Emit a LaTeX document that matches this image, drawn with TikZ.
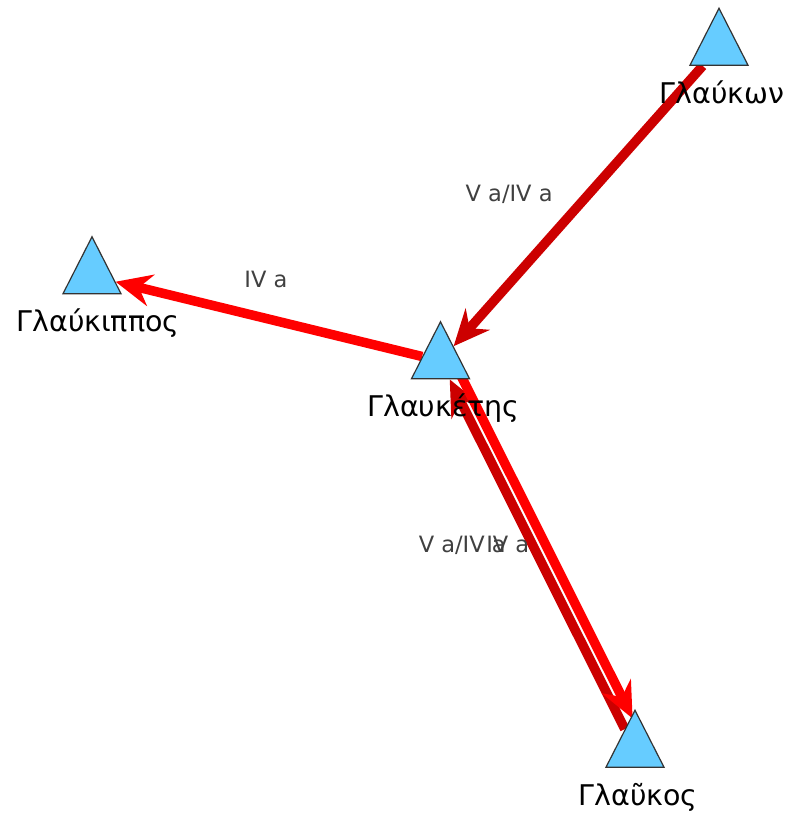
\documentclass[tikz,border=0pt]{standalone}
\usepackage{fontspec}
\setmainfont{DejaVu Sans}
\usetikzlibrary{arrows.meta,shapes.geometric,positioning}
\pgfdeclarelayer{background}
\pgfsetlayers{background,main}
\definecolor{skyfill}{RGB}{102,204,255}
\definecolor{darkred}{RGB}{204,0,0}

\begin{document}
\begin{tikzpicture} [
		x=1pt, y=1pt,
		person/.style      = { isosceles triangle, isosceles triangle apex angle=54,
			shape border rotate=90, draw=black!80, line width=1.2pt,
			fill=skyfill, inner sep=0pt, minimum height=57pt, minimum width=58pt },
		personlabel/.style = { font=\fontsize{28.5}{33}\selectfont, inner sep=2pt,
			text height=20pt, text depth=6pt, xshift=3pt },
		tie/.style         = { line width=9.5pt,
			-{Stealth[length=36pt, width=32pt, inset=12pt]} },
		tielabel/.style    = { font=\fontsize{22.5}{27}\selectfont, text=black!75 },
	]
	\useasboundingbox (0,0) rectangle (789,816);
	% the people
	\begin{scope}
		\node [person] (glaukon)   at (719,768.5) {};
		\node [person] (glaukippos) at (92,540)   {};
		\node [person] (glauketes) at (440.5,455) {};
		\node [person] (glaukos)   at (635,66.5)  {};
		\node [personlabel, below=15pt of glaukon]   (glaukonlbl)   {Γλαύκων};
		\node [personlabel, below=15pt of glaukippos, xshift=3pt] (glaukipposlbl) {Γλαύκιππος};
		\node [personlabel, below=15pt of glauketes] (glauketeslbl) {Γλαυκέτης};
		\node [personlabel, below=15pt of glaukos]   (glaukoslbl)   {Γλαῦκος};
	\end{scope}
	% ties between them
	\begin{pgfonlayer}{background}
		\draw [tie, darkred] (glaukon) -- (glauketes)
			node [tielabel, midway, xshift=-69pt, yshift=12pt] {V a/IV a};
		\draw [tie, red] (glauketes) -- (glaukippos)
			node [tielabel, midway, xshift=-3pt, yshift=40pt] {IV a};
		\draw [tie, darkred] (glaukos) -- (glauketes)
			node [tielabel, midway, xshift=-75pt, yshift=9pt] {V a/IV a};
		\draw [tie, red, shorten >=6pt, transform canvas={shift={(10.5pt,5.2pt)}}] (glauketes) -- (glaukos)
			node [tielabel, midway, xshift=-40pt, yshift=5pt] {IV a};
	\end{pgfonlayer}
\end{tikzpicture}
\end{document}
